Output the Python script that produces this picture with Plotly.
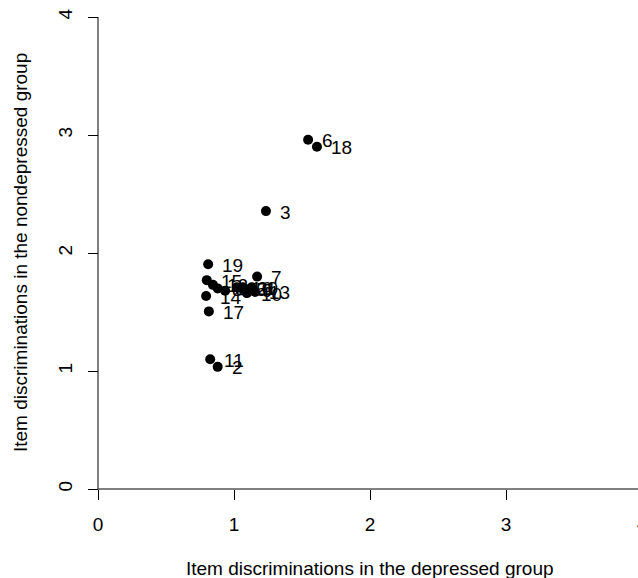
import plotly.graph_objects as go

items = [str(i) for i in range(1, 21)]
depressed = [1.13, 0.88, 1.235, 0.935, 1.06, 1.545, 1.17, 0.88, 1.10, 1.095,
             0.825, 0.845, 1.155, 0.795, 0.80, 1.02, 0.815, 1.61, 0.81, 1.065]
nondepressed = [1.71, 1.035, 2.355, 1.68, 1.70, 2.96, 1.80, 1.70, 1.69, 1.66,
                1.10, 1.73, 1.67, 1.635, 1.77, 1.71, 1.505, 2.90, 1.905, 1.71]
tick_vals = [0, 1, 2, 3, 4]
tick_text = ["0", "1", "2", "3", "4"]

W, H = 638, 578
L, R, T, B = 76, 0, 0, 70
px_per_x, px_per_y = 136.0, 118.0
x0_px, y0_px = 98.0, 489.0
xmin = (L - x0_px) / px_per_x
xmax = (W - R - x0_px) / px_per_x
ymax = (y0_px - T) / px_per_y
ymin = (y0_px - (H - B)) / px_per_y
plot_w = W - L - R
plot_h = H - T - B

font = dict(family="Liberation Sans, Arial, sans-serif", size=19, color="black")

fig = go.Figure()
fig.add_trace(go.Scatter(
    x=depressed, y=nondepressed, mode="markers",
    marker=dict(color="black", size=10, line=dict(width=0)),
    hoverinfo="skip", showlegend=False))

annotations = []
for lab, xv, yv in zip(items, depressed, nondepressed):
    annotations.append(dict(x=xv, y=yv, xref="x", yref="y", text=lab,
                            showarrow=False, xanchor="left", yanchor="middle",
                            xshift=12, yshift=-1, font=font))

# tick labels beyond the visible x range (R draws them even when clipped)
for tv, tt in zip(tick_vals, tick_text):
    if tv > xmax:
        annotations.append(dict(text=tt, xref="paper", yref="paper",
                                x=(x0_px + tv * px_per_x - L) / plot_w,
                                y=(plot_h - 523) / plot_h,
                                xanchor="center", yanchor="middle",
                                showarrow=False, font=font))

annotations.append(dict(text="Item discriminations in the depressed group",
                        xref="paper", yref="paper",
                        x=(370 - L) / plot_w, y=(plot_h - 568) / plot_h,
                        xanchor="center", yanchor="middle", showarrow=False, font=font))
annotations.append(dict(text="Item discriminations in the nondepressed group",
                        xref="paper", yref="paper",
                        x=(20 - L) / plot_w, y=(plot_h - 253) / plot_h,
                        xanchor="center", yanchor="middle", textangle=-90,
                        showarrow=False, font=font))

shapes = [
    dict(type="line", xref="x", yref="y", x0=tick_vals[0], x1=tick_vals[-1],
         y0=0, y1=0, line=dict(color="black", width=1)),
    dict(type="line", xref="x", yref="y", x0=0, x1=0,
         y0=tick_vals[0], y1=tick_vals[-1], line=dict(color="black", width=1)),
]

fig.update_layout(
    width=W, height=H,
    margin=dict(l=L, r=R, t=T, b=B),
    paper_bgcolor="white", plot_bgcolor="white",
    font=font,
    annotations=annotations, shapes=shapes,
    xaxis=dict(range=[xmin, xmax], tickvals=tick_vals, ticktext=tick_text,
               showgrid=False,
               zeroline=False, showline=False, ticks="outside", ticklen=10,
               tickcolor="black", tickwidth=1, anchor="free",
               position=(plot_h - (y0_px - T)) / plot_h,
               tickfont=font, ticklabelstandoff=8),
    yaxis=dict(range=[ymin, ymax], tickvals=tick_vals, ticktext=tick_text,
               showgrid=False,
               zeroline=False, showline=False, ticks="outside", ticklen=10,
               tickcolor="black", tickwidth=1, anchor="free",
               position=(x0_px - L) / plot_w, tickangle=-90,
               tickfont=font, ticklabelstandoff=8),
)

fig.write_html("out.html")
